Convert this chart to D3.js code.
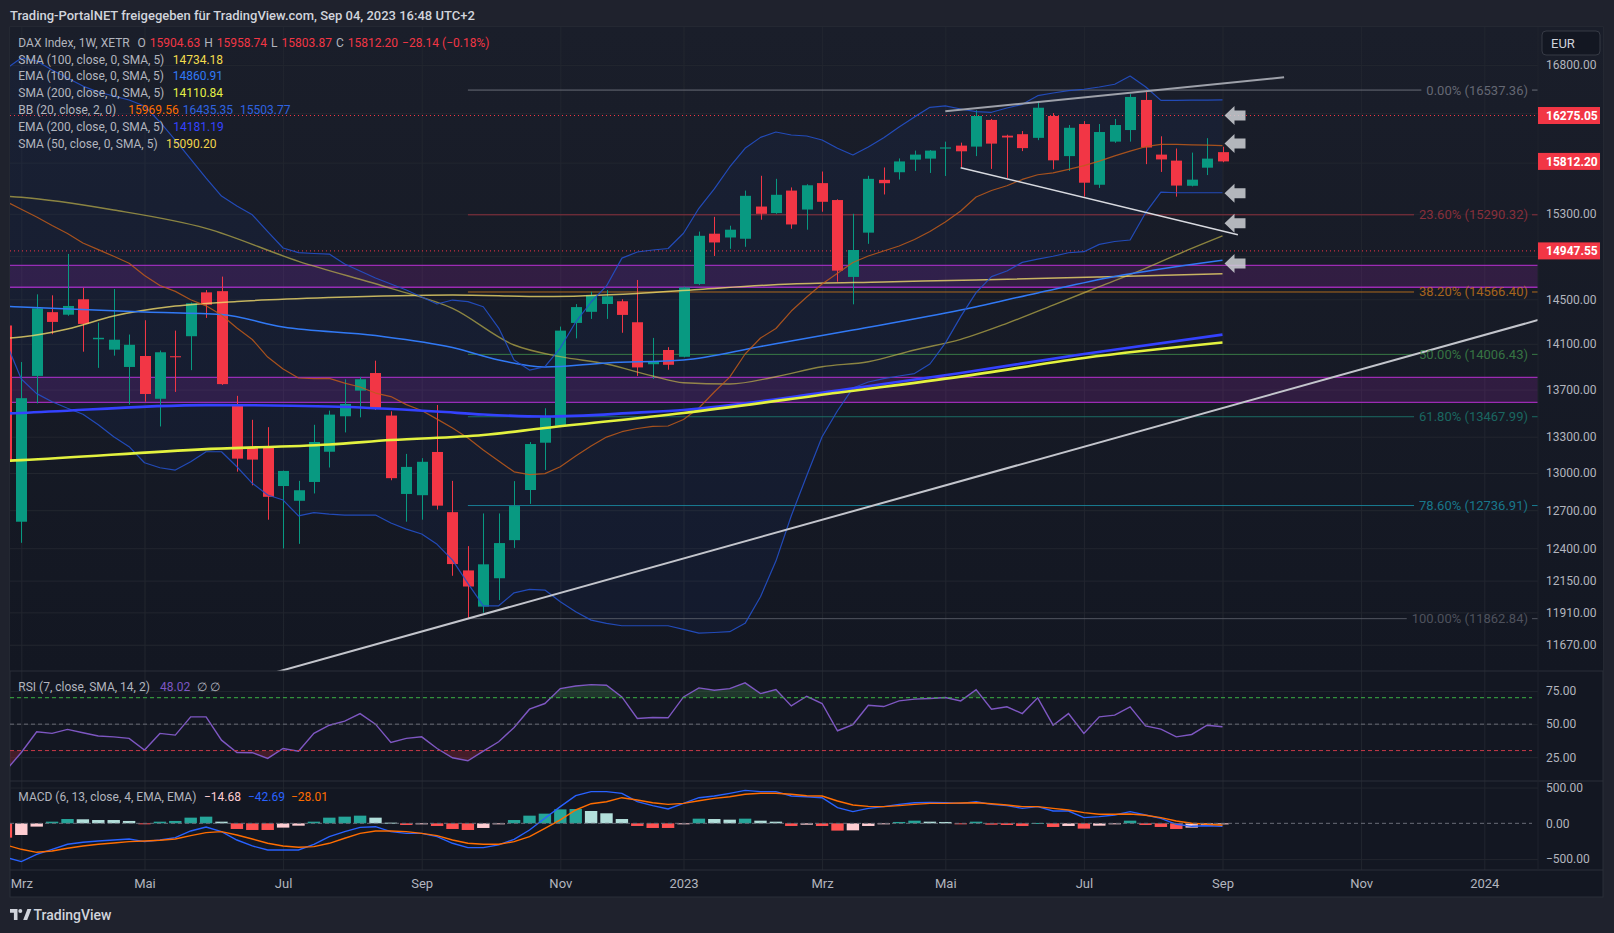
<!DOCTYPE html>
<html lang="de">
<head>
<meta charset="UTF-8">
<title>DAX Index - 1W</title>
<script src="https://d3js.org/d3.v7.min.js"></script>
<style>
  body { margin: 0; background: #1f222d; }
  svg { display: block; }
  text { font-family: Roboto, "Noto Sans", sans-serif; }
</style>
</head>
<body>
<svg id="chart" width="1614" height="933"></svg>
<script>
// weekly bars: Feb 28 2022 ... Sep 04 2023 (first one is cut off by the pane edge)
const weeks = d3.timeMonday.range(new Date(2022, 1, 28), new Date(2023, 8, 5));

const open = [14263, 12608, 13818, 14383, 14360, 14500, 14140, 14048, 13896, 13992,
  13621, 13990, 14167, 14563, 14574, 13568, 13207, 13214, 12894, 12775,
  12927, 13175, 13472, 13691, 13843, 13478, 12830, 12820, 13173, 12684,
  12228, 11953, 12168, 12463, 12862, 13250, 13392, 14286, 14386, 14457,
  14482, 14292, 13920, 14045, 13985, 14640, 15110, 15074, 15062, 15370,
  15307, 15525, 15341, 15598, 15433, 14705, 15120, 15630, 15705, 15830,
  15840, 15940, 15970, 15960, 16230, 16070, 16085, 16048, 16270, 15865,
  16188, 15582, 16010, 16127, 16435, 15880, 15820, 15572, 15750, 15904.63];
const high = [14420, 13939, 14545, 14536, 14919, 14605, 14289, 14593, 14182, 14310,
  14040, 14217, 14470, 14584, 14708, 13646, 13442, 13380, 13020, 12936,
  13400, 13520, 13789, 13809, 13951, 13514, 13157, 13122, 13568, 12936,
  12416, 12674, 12674, 12934, 13255, 13540, 14253, 14456, 14568, 14584,
  14500, 14677, 14152, 14070, 14615, 15130, 15271, 15186, 15525, 15670,
  15640, 15556, 15587, 15712, 15440, 15300, 15670, 15752, 15842, 15920,
  15925, 16010, 16000, 16330, 16240, 16080, 16117, 16425, 16300, 16178,
  16218, 16188, 16240, 16495, 16537, 16064, 15941, 15900, 16045, 15958.74];
const low = [12990, 12442, 13582, 14185, 14350, 14030, 13888, 13995, 13571, 13596,
  13386, 13680, 13868, 14331, 13740, 13011, 12900, 12624, 12398, 12434,
  12834, 13045, 13336, 13463, 13526, 12941, 12608, 12624, 12705, 12187,
  11863, 11907, 12002, 12402, 12750, 13025, 13390, 14148, 14322, 14322,
  14198, 13818, 13792, 13872, 13980, 14630, 14900, 14967, 14986, 15243,
  15300, 15157, 15148, 15320, 14661, 14454, 15014, 15487, 15633, 15718,
  15698, 15668, 15757, 15865, 15738, 15649, 15915, 16025, 15734, 15718,
  15466, 15551, 15998, 16010, 15785, 15708, 15466, 15566, 15677, 15803.87];
const close = [13090, 13626, 14417, 14295, 14439, 14277, 14153, 14136, 14091, 13662,
  14025, 13981, 14463, 14450, 13747, 13118, 13110, 12807, 13017, 12860,
  13256, 13486, 13577, 13789, 13534, 12958, 13050, 13092, 12736, 12277,
  12105, 12275, 12440, 12733, 13239, 13463, 14217, 14429, 14536, 14527,
  14358, 13892, 13940, 13915, 14608, 15090, 15027, 15148, 15474, 15300,
  15484, 15198, 15577, 15416, 14763, 14956, 15640, 15597, 15812, 15880,
  15920, 15952, 15913, 16270, 15990, 16052, 15945, 16355, 15823, 16150,
  15602, 16107, 16178, 16466, 15951, 15832, 15574, 15632, 15840, 15812.20];

// Bollinger Bands (20, 2), one value per bar
const bbUpper = [16758, 16874, 16842, 16747, 16663, 16579, 16517, 16476, 16434, 16373,
  16209, 16026, 15836, 15648, 15472, 15375, 15290, 15129, 14975, 14931,
  14923, 14918, 14825, 14760, 14695, 14640, 14585, 14521, 14457, 14493,
  14479, 14432, 14240, 13957, 13869, 13898, 14062, 14294, 14475, 14622,
  14880, 14937, 14956, 14970, 15114, 15353, 15541, 15757, 15943, 16053,
  16107, 16077, 16067, 16026, 15943, 15876, 15956, 16050, 16158, 16261,
  16359, 16373, 16342, 16314, 16308, 16352, 16390, 16479, 16507, 16531,
  16546, 16569, 16598, 16684, 16572, 16431, 16431, 16433, 16434, 16435.35];
const bbBasis = [15420, 15344, 15270, 15188, 15112, 15022, 14959, 14897, 14832, 14719,
  14626, 14572, 14495, 14440, 14357, 14240, 14138, 13983, 13878, 13800,
  13795, 13797, 13756, 13722, 13670, 13640, 13571, 13521, 13448, 13373,
  13289, 13189, 13098, 13010, 12987, 12995, 13051, 13139, 13222, 13297,
  13342, 13369, 13386, 13390, 13445, 13542, 13679, 13808, 14010, 14151,
  14236, 14393, 14521, 14640, 14738, 14839, 14900, 14947, 14994, 15055,
  15131, 15222, 15327, 15462, 15526, 15572, 15634, 15680, 15699, 15734,
  15770, 15815, 15867, 15915, 15959, 15983, 15983, 15978, 15975, 15969.56];
const bbLower = [14116, 13791, 13665, 13596, 13540, 13489, 13400, 13300, 13217, 13084,
  13043, 13024, 13092, 13175, 13175, 13051, 12916, 12822, 12781, 12654,
  12680, 12669, 12661, 12661, 12661, 12598, 12550, 12511, 12430, 12308,
  12129, 11959, 11959, 12057, 12083, 12078, 11989, 11914, 11852, 11828,
  11810, 11810, 11810, 11810, 11783, 11756, 11760, 11766, 11828, 12027,
  12300, 12656, 12977, 13300, 13519, 13713, 13765, 13795, 13817, 13838,
  13922, 14106, 14343, 14561, 14708, 14760, 14840, 14871, 14897, 14930,
  14940, 15009, 15036, 15050, 15308, 15510, 15504, 15504, 15504, 15503.77];

// moving averages, read at [bar, value]
const sma200 = [[0, 13100], [1, 13106], [13, 13197], [21, 13235], [25, 13272], [31, 13314], [35, 13373],
  [44, 13500], [54, 13673], [62, 13812], [70, 13975], [79, 14110.84]];
const ema200 = [[0, 13495], [1, 13500], [13, 13567], [21, 13555], [28, 13512], [31, 13487], [35, 13470],
  [41, 13503], [44, 13525], [54, 13692], [62, 13843], [70, 14010], [79, 14181.19]];
const ema100 = [[0, 14435], [1, 14430], [9, 14384], [14, 14361], [18, 14249], [24, 14173], [29, 14067],
  [32, 13957], [35, 13895], [39, 13931], [44, 13957], [49, 14076], [55, 14222], [62, 14402],
  [67, 14558], [72, 14709], [79, 14860.91]];
const sma100 = [[0, 14150], [1, 14160], [4, 14231], [7, 14348], [11, 14438], [15, 14480], [21, 14516],
  [29, 14539], [35, 14525], [41, 14553], [45, 14590], [51, 14640], [57, 14659], [63, 14677],
  [71, 14705], [79, 14734.18]];
const sma50 = [[0, 15470], [1, 15460], [7, 15337], [13, 15161], [19, 14850], [25, 14600], [29, 14417],
  [33, 14089], [36, 13986], [39, 13922], [42, 13817], [44, 13759], [47, 13748], [50, 13811],
  [53, 13898], [56, 13942], [59, 14045], [62, 14139], [65, 14282], [68, 14447], [71, 14615],
  [74, 14785], [77, 14972], [79, 15090.20]];

// RSI (7) and MACD (6, 13, 4)
const rsi = [15, 28.6, 44.2, 43.0, 46.0, 43.5, 41.0, 40.4, 39.2, 30.4,
  43.0, 41.7, 55.5, 55.5, 37.9, 28.6, 28.4, 24.1, 31.6, 29.6,
  43.0, 49.2, 52.3, 58.0, 50.0, 36.2, 39.2, 40.4, 31.6, 24.6,
  22.3, 29.6, 36.7, 47.5, 61.3, 65.6, 76.9, 78.9, 79.9, 79.4,
  70.6, 54.3, 55.0, 54.8, 70.6, 77.4, 75.6, 76.9, 81.2, 73.1,
  76.1, 63.8, 71.1, 65.6, 45.0, 49.7, 64.3, 63.3, 67.6, 68.9,
  69.4, 70.1, 67.6, 76.1, 61.3, 63.1, 58.0, 69.9, 49.2, 58.0,
  43.0, 55.5, 56.8, 63.1, 48.7, 46.2, 40.4, 42.2, 49.2, 48.02];
const macd = [-474, -535, -433, -363, -293, -265, -247, -233, -219, -256,
  -233, -200, -107, -51, -116, -233, -316, -372, -372, -372,
  -293, -186, -116, -56, -47, -116, -140, -140, -186, -279,
  -340, -340, -302, -223, -93, 70, 233, 386, 442, 442,
  419, 302, 247, 200, 279, 358, 381, 419, 460, 442,
  442, 381, 372, 358, 219, 163, 209, 233, 265, 288,
  293, 288, 279, 302, 265, 247, 209, 233, 172, 172,
  79, 93, 116, 163, 116, 70, -14, -42, -33, -42.69];
const signal = [-302, -363, -405, -386, -349, -316, -293, -274, -256, -247,
  -237, -219, -172, -130, -116, -163, -219, -279, -316, -335,
  -326, -279, -209, -140, -107, -107, -116, -140, -172, -233,
  -279, -293, -293, -256, -186, -70, 47, 186, 274, 302,
  358, 326, 288, 265, 279, 316, 349, 372, 405, 419,
  419, 405, 386, 381, 312, 256, 237, 233, 247, 265,
  279, 279, 284, 288, 274, 256, 233, 233, 209, 186,
  149, 126, 126, 130, 112, 79, 33, 0, -14, -28.01];
const hist = [-200, -163, -46, 23, 60, 56, 46, 46, 33, -9,
  23, 33, 79, 93, 23, -79, -93, -93, -60, -33,
  23, 79, 93, 107, 79, 9, -23, -14, -37, -79,
  -93, -65, -14, 46, 107, 135, 195, 200, 172, 140,
  60, -37, -65, -65, -5, 65, 60, 51, 65, 37,
  23, -37, -19, -37, -102, -98, -37, -9, 19, 37,
  23, 19, -9, 23, -19, -23, -37, 5, -51, -37,
  -74, -33, -4, 37, -23, -51, -79, -60, -28, -14.68];

// drawings
const fibLevels = ["0.00%", "23.60%", "38.20%", "50.00%", "61.80%", "78.60%", "100.00%"];
const fibPrices = [16537.36, 15290.32, 14566.40, 14006.43, 13467.99, 12736.91, 11862.84];
const fibColors = ["#787b86", "#a33440", "#c9771b", "#3f8a4b", "#1c7a70", "#1a8ea5", "#5d606b"];
const zones = [[14610, 14813], [13590, 13806]];
const dottedLevels = [16275.05, 14947.55];
const supportLine = [[30, 11863], [96, 14178]];
const upperLine = [[61, 16318], [83, 16670]];
const lowerLine = [[62, 15750], [80, 15100]];
const arrowPrices = [16275, 15990, 15500, 15210, 14830];
const priceTags = [16275.05, 15812.20, 14947.55];

// axes
const priceTicks = [16800, 16300, 15800, 15300, 14900, 14500, 14100, 13700, 13300, 13000, 12700, 12400, 12150, 11910, 11670];
const timeTicks = [new Date(2022, 2, 7), new Date(2022, 4, 2), new Date(2022, 6, 4), new Date(2022, 8, 5),
  new Date(2022, 10, 7), new Date(2023, 0, 2), new Date(2023, 2, 6), new Date(2023, 4, 1),
  new Date(2023, 6, 3), new Date(2023, 8, 4), new Date(2023, 10, 6), new Date(2024, 0, 1)];
const timeLabels = ["Mrz", "Mai", "Jul", "Sep", "Nov", "2023", "Mrz", "Mai", "Jul", "Sep", "Nov", "2024"];

const svg = d3.select("#chart");
const left = 10, right = 1538, frameRight = 1603;
const mainTop = 27, mainBottom = 671, rsiBottom = 781, macdBottom = 870, frameBottom = 897;
const up = "#089981", down = "#f23645", gridColor = "#22262f", textColor = "#b2b5be";

const x = d3.scaleTime().domain([new Date(2022, 2, 7), new Date(2024, 0, 1)]).range([21.3, 1484.3]);
const xk = k => x(d3.timeMonday.offset(weeks[0], k));
const y = d3.scaleLog().domain([11479, 17206]).range([mainBottom, mainTop]);
const yRsi = d3.scaleLinear().domain([7, 90.2]).range([rsiBottom, mainBottom]);
const yMacd = d3.scaleLinear().domain([-652, 591]).range([macdBottom, rsiBottom]);

// background
const defs = svg.append("defs");
const grad = defs.append("linearGradient").attr("id", "bg").attr("x1", 0).attr("y1", 0).attr("x2", 0).attr("y2", 1);
grad.append("stop").attr("offset", 0).attr("stop-color", "#1a1e2a");
grad.append("stop").attr("offset", 1).attr("stop-color", "#131722");
function clip(id, y0, y1) {
  defs.append("clipPath").attr("id", id).append("rect")
    .attr("x", left).attr("y", y0).attr("width", right - left).attr("height", y1 - y0);
}
clip("cMain", mainTop, mainBottom);
clip("cRsi", mainBottom, rsiBottom);
clip("cMacd", rsiBottom, macdBottom);

svg.append("rect").attr("width", 1614).attr("height", 933).attr("fill", "#1f222d");
svg.append("rect").attr("x", left).attr("y", mainTop).attr("width", frameRight - left)
  .attr("height", frameBottom - mainTop).attr("fill", "#131722").attr("stroke", "#2a2e39");
svg.append("rect").attr("x", left).attr("y", mainTop).attr("width", frameRight - left)
  .attr("height", mainBottom - mainTop).attr("fill", "url(#bg)");

// grid
function styleGrid(g) {
  g.select(".domain").remove();
  g.selectAll("line").attr("stroke", gridColor);
}
svg.append("g").attr("transform", `translate(0,${mainTop})`)
  .call(d3.axisBottom(x).tickValues(timeTicks).tickSize(macdBottom - mainTop).tickFormat(""))
  .call(styleGrid);
svg.append("g").attr("transform", `translate(${left},0)`)
  .call(d3.axisRight(y).tickValues(priceTicks).tickSize(right - left).tickFormat(""))
  .call(styleGrid);
svg.append("g").attr("transform", `translate(${left},0)`)
  .call(d3.axisRight(yRsi).tickValues([25, 50, 75]).tickSize(right - left).tickFormat(""))
  .call(styleGrid);
svg.append("g").attr("transform", `translate(${left},0)`)
  .call(d3.axisRight(yMacd).tickValues([-500, 500]).tickSize(right - left).tickFormat(""))
  .call(styleGrid);

// ---------- main pane ----------
const main = svg.append("g").attr("clip-path", "url(#cMain)");
const bars = d3.range(weeks.length);

// zones
zones.forEach(([lo, hi]) => {
  main.append("rect").attr("x", left).attr("width", right - left)
    .attr("y", y(hi)).attr("height", y(lo) - y(hi))
    .attr("fill", "rgba(156,39,176,0.2)");
  [lo, hi].forEach(p => main.append("line").attr("x1", left).attr("x2", right)
    .attr("y1", y(p)).attr("y2", y(p)).attr("stroke", "#9c2bb3").attr("stroke-width", 1.3));
});

// bollinger fill
main.append("path").datum(bars)
  .attr("d", d3.area().x(k => x(weeks[k])).y0(k => y(bbLower[k])).y1(k => y(bbUpper[k])))
  .attr("fill", "rgba(41,98,255,0.05)");

// fib retracement
const fibLines = main.append("g");
const fibText = svg.append("g");
fibPrices.forEach((p, j) => {
  const yy = y(p);
  const t = fibText.append("text").attr("x", 1528).attr("y", yy + 4.5)
    .attr("text-anchor", "end").attr("font-size", 13).attr("fill", fibColors[j])
    .attr("opacity", 0.8).text(`${fibLevels[j]} (${p.toFixed(2)})`);
  const w = t.node().getComputedTextLength();
  fibLines.append("line").attr("x1", xk(30)).attr("x2", 1528 - w - 5).attr("y1", yy).attr("y2", yy)
    .attr("stroke", fibColors[j]).attr("opacity", 0.85);
  fibLines.append("line").attr("x1", 1532).attr("x2", right).attr("y1", yy).attr("y2", yy)
    .attr("stroke", fibColors[j]).attr("opacity", 0.85);
});

// dotted horizontal levels
dottedLevels.forEach(p => main.append("line").attr("x1", left).attr("x2", right)
  .attr("y1", y(p)).attr("y2", y(p)).attr("stroke", "#f23645").attr("stroke-dasharray", "1,3"));

// candles
const candles = main.append("g");
candles.selectAll("line").data(bars).join("line")
  .attr("x1", k => Math.round(x(weeks[k])) + 0.5).attr("x2", k => Math.round(x(weeks[k])) + 0.5)
  .attr("y1", k => y(high[k])).attr("y2", k => y(low[k]))
  .attr("stroke", k => close[k] >= open[k] ? up : down);
candles.selectAll("rect").data(bars).join("rect")
  .attr("x", k => Math.round(x(weeks[k])) - 5).attr("width", 11)
  .attr("y", k => y(Math.max(open[k], close[k])))
  .attr("height", k => Math.max(1, Math.abs(y(open[k]) - y(close[k]))))
  .attr("fill", k => close[k] >= open[k] ? up : down);

// indicator lines
const barLine = d3.line().x((d, k) => x(weeks[k])).y(d => y(d));
const maLine = d3.line().x(d => xk(d[0])).y(d => y(d[1])).curve(d3.curveMonotoneX);
function path(data, gen, color, width, opacity) {
  main.append("path").datum(data).attr("d", gen).attr("fill", "none")
    .attr("stroke", color).attr("stroke-width", width).attr("opacity", opacity || 1)
    .attr("stroke-linejoin", "round");
}
path(sma50, maLine, "#c9bc4c", 1.4, 0.65);
path(sma100, maLine, "#efd96a", 1.5, 0.8);
path(ema100, maLine, "#3179f5", 1.5);
path(bbUpper, barLine, "#2450c8", 1.2, 0.9);
path(bbLower, barLine, "#2450c8", 1.2, 0.9);
path(bbBasis, barLine, "#bf5a1a", 1.2, 0.85);
path(ema200, maLine, "#3442ff", 2.6);
path(sma200, maLine, "#e3f23f", 2.6);

// trend lines
function segment(pts, extend) {
  let a = [xk(pts[0][0]), y(pts[0][1])], b = [xk(pts[1][0]), y(pts[1][1])];
  if (extend) {
    const m = (b[1] - a[1]) / (b[0] - a[0]);
    a = [left, a[1] + m * (left - a[0])];
    b = [right, b[1] + m * (right - b[0])];
  }
  return [a, b];
}
[[supportLine, true, "#c3c5cc", 2], [upperLine, false, "#9ea1aa", 2], [lowerLine, false, "#d8dae0", 1.5]]
  .forEach(([pts, ext, col, w]) => {
    const [a, b] = segment(pts, ext);
    main.append("line").attr("x1", a[0]).attr("y1", a[1]).attr("x2", b[0]).attr("y2", b[1])
      .attr("stroke", col).attr("stroke-width", w);
  });

// arrows
arrowPrices.forEach(p => {
  const ax = xk(79) + 2, ay = y(p);
  main.append("path")
    .attr("d", `M${ax},${ay} l10,-9.5 v4.5 h11 v10 h-11 v4.5 z`)
    .attr("fill", "#cfd1d6").attr("opacity", 0.85);
});

// ---------- RSI pane ----------
const rsiG = svg.append("g").attr("clip-path", "url(#cRsi)");
defs.append("clipPath").attr("id", "rsiHi").append("rect")
  .attr("x", left).attr("y", mainBottom).attr("width", right - left).attr("height", yRsi(70) - mainBottom);
defs.append("clipPath").attr("id", "rsiLo").append("rect")
  .attr("x", left).attr("y", yRsi(30)).attr("width", right - left).attr("height", rsiBottom - yRsi(30));
rsiG.append("g").attr("clip-path", "url(#rsiHi)").append("path").datum(rsi)
  .attr("d", d3.area().x((d, k) => x(weeks[k])).y0(yRsi(70)).y1(d => yRsi(d)))
  .attr("fill", "rgba(76,175,80,0.22)");
rsiG.append("g").attr("clip-path", "url(#rsiLo)").append("path").datum(rsi)
  .attr("d", d3.area().x((d, k) => x(weeks[k])).y0(yRsi(30)).y1(d => yRsi(d)))
  .attr("fill", "rgba(242,54,69,0.22)");
[[70, "#3cb043"], [50, "#6a6d78"], [30, "#c83a48"]].forEach(([v, c]) =>
  svg.append("line").attr("x1", left).attr("x2", 1532).attr("y1", yRsi(v)).attr("y2", yRsi(v))
    .attr("stroke", c).attr("stroke-dasharray", "4,3"));
rsiG.append("path").datum(rsi)
  .attr("d", d3.line().x((d, k) => x(weeks[k])).y(d => yRsi(d)))
  .attr("fill", "none").attr("stroke", "#7e57c2").attr("stroke-width", 1.4);

// ---------- MACD pane ----------
const macdG = svg.append("g").attr("clip-path", "url(#cMacd)");
svg.append("line").attr("x1", left).attr("x2", 1532).attr("y1", yMacd(0)).attr("y2", yMacd(0))
  .attr("stroke", "#6a6d78").attr("stroke-dasharray", "4,3");
function histColor(k) {
  const prev = k > 0 ? hist[k - 1] : hist[k];
  if (hist[k] >= 0) return prev < hist[k] ? "#26a69a" : "#b2dfdb";
  return prev < hist[k] ? "#ffcdd2" : "#ff5252";
}
macdG.selectAll("rect").data(bars).join("rect")
  .attr("x", k => x(weeks[k]) - 6.2).attr("width", 12.4)
  .attr("y", k => yMacd(Math.max(0, hist[k])))
  .attr("height", k => Math.max(1, Math.abs(yMacd(hist[k]) - yMacd(0))))
  .attr("fill", histColor);
[[macd, "#2962ff"], [signal, "#ff6d00"]].forEach(([s, c]) =>
  macdG.append("path").datum(s)
    .attr("d", d3.line().x((d, k) => x(weeks[k])).y(d => yMacd(d)))
    .attr("fill", "none").attr("stroke", c).attr("stroke-width", 1.4));

// pane separators
[mainBottom, rsiBottom, macdBottom].forEach(v => svg.append("line")
  .attr("x1", left).attr("x2", frameRight).attr("y1", v).attr("y2", v).attr("stroke", "#2a2e39"));
svg.append("line").attr("x1", right).attr("x2", right).attr("y1", mainTop).attr("y2", macdBottom)
  .attr("stroke", "#1e222c");

// ---------- axes ----------
function styleAxis(g) {
  g.select(".domain").remove();
  g.attr("font-family", null).attr("font-size", null);
  g.selectAll("text").attr("fill", textColor).attr("font-size", 12);
}
// tick labels hidden behind the red price tags are left out
const visibleTicks = priceTicks.filter(t => priceTags.every(p => Math.abs(y(t) - y(p)) > 12));
svg.append("g").attr("transform", `translate(${right},0)`)
  .call(d3.axisRight(y).tickValues(visibleTicks).tickSize(0).tickPadding(8).tickFormat(d3.format(".2f")))
  .call(styleAxis);
svg.append("g").attr("transform", `translate(${right},0)`)
  .call(d3.axisRight(yRsi).tickValues([25, 50, 75]).tickSize(0).tickPadding(8).tickFormat(d3.format(".2f")))
  .call(styleAxis);
svg.append("g").attr("transform", `translate(${right},0)`)
  .call(d3.axisRight(yMacd).tickValues([-500, 0, 500]).tickSize(0).tickPadding(8).tickFormat(d3.format(".2f")))
  .call(styleAxis);
svg.append("g").attr("transform", `translate(0,${macdBottom})`)
  .call(d3.axisBottom(x).tickValues(timeTicks).tickSize(0).tickPadding(9).tickFormat((d, i) => timeLabels[i]))
  .call(styleAxis)
  .call(g => g.selectAll("text").attr("font-size", 13));

// price tags
priceTags.forEach(p => {
  svg.append("rect").attr("x", right).attr("y", y(p) - 8.5).attr("width", 62).attr("height", 17)
    .attr("fill", "#f23645");
  svg.append("text").attr("x", right + 8).attr("y", y(p) + 4.3).attr("fill", "#fff")
    .attr("font-size", 12).attr("font-weight", "bold").text(p.toFixed(2));
});

// currency box
svg.append("rect").attr("x", 1542).attr("y", 31).attr("width", 58).attr("height", 24).attr("rx", 4)
  .attr("fill", "#131722").attr("stroke", "#363a45");
svg.append("text").attr("x", 1551).attr("y", 47.5).attr("fill", "#d1d4dc").attr("font-size", 13).text("EUR");

// ---------- legends ----------
function row(yc, parts) {
  let end = 0;
  parts.forEach(([t, c, px]) => {
    const tx = Math.max(px, end + 4);
    const node = svg.append("text").attr("x", tx).attr("y", yc + 4.5)
      .attr("fill", c).attr("font-size", 12).text(t);
    end = tx + node.node().getComputedTextLength();
  });
}
const lab = "#b2b5be", red = "#f23645";
row(42.3, [["DAX Index, 1W, XETR", lab, 18.3], ["O", lab, 137.5], ["15904.63", red, 146.5],
  ["H", lab, 201.5], ["15958.74", red, 211], ["L", lab, 264.5], ["15803.87", red, 272.5],
  ["C", lab, 334.5], ["15812.20", red, 342.5], ["\u221228.14 (\u22120.18%)", red, 396]]);
row(59.1, [["SMA (100, close, 0, SMA, 5)", lab, 18.3], ["14734.18", "#f2dc4e", 172.7]]);
row(75.9, [["EMA (100, close, 0, SMA, 5)", lab, 18.3], ["14860.91", "#3179f5", 172.7]]);
row(92.7, [["SMA (200, close, 0, SMA, 5)", lab, 18.3], ["14110.84", "#e4f046", 172.7]]);
row(109.5, [["BB (20, close, 2, 0)", lab, 18.3], ["15969.56", "#ff6d00", 128.3],
  ["16435.35", "#2f63e0", 180], ["15503.77", "#2f63e0", 240]]);
row(126.3, [["EMA (200, close, 0, SMA, 5)", lab, 18.3], ["14181.19", "#3442ff", 173.3]]);
row(143.1, [["SMA (50, close, 0, SMA, 5)", lab, 18.3], ["15090.20", "#f1d44b", 166]]);
row(686.7, [["RSI (7, close, SMA, 14, 2)", lab, 18.3], ["48.02", "#7e57c2", 160], ["\u2205  \u2205", lab, 197]]);
row(796.7, [["MACD (6, 13, close, 4, EMA, EMA)", lab, 18.3], ["\u221214.68", "#ffcdd2", 204],
  ["\u221242.69", "#2962ff", 248], ["\u221228.01", "#ff6d00", 291]]);

// header and footer
svg.append("text").attr("x", 10).attr("y", 19.5).attr("fill", "#d1d4dc").attr("font-size", 13)
  .attr("font-weight", 500).text("Trading-PortalNET freigegeben f\u00fcr TradingView.com, Sep 04, 2023 16:48 UTC+2");
const logo = svg.append("g").attr("transform", "translate(10,909)").attr("fill", "#d1d4dc");
logo.append("path").attr("d", "M0,0 h7.5 v11 h-3.6 v-7.2 h-3.9 z");
logo.append("circle").attr("cx", 10.3).attr("cy", 2).attr("r", 2);
logo.append("path").attr("d", "M13.2,11 l4.2,-11 h4 l-4.2,11 z");
svg.append("text").attr("x", 33.5).attr("y", 920).attr("fill", "#d1d4dc").attr("font-size", 14)
  .attr("font-weight", 500).text("TradingView");
</script>
</body>
</html>
